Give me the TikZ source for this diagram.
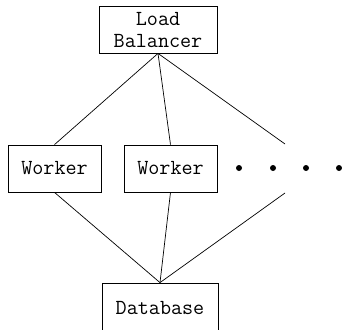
\documentclass[tikz,border=0pt]{standalone}

\begin{document}
\begin{tikzpicture}[x=1pt, y=-1pt,
    box/.style={draw, line width=0.8pt, inner sep=0pt, minimum height=47pt,
        font=\ttfamily\fontsize{21.5}{22}\selectfont, align=center},
    link/.style={line width=0.7pt},
    dot/.style={circle, fill=black, inner sep=0pt, minimum size=6pt}]
            \useasboundingbox (0,0) rectangle (342,329);

            \node[box, minimum width=118pt] (LB) at (158,29.5) {Load\\Balancer};
            \node[box, minimum width=93pt] (W1) at (54.5,168.5) {Worker};
            \node[box, minimum width=93pt] (W2) at (170.5,168.5) {Worker};
            % runs off the bottom edge
            \node[box, minimum width=116pt, minimum height=50pt] (DB) at (160,308) {Database};

            \node[dot] (d1) at (239,168) {};
            \node[dot] (d2) at (273,168) {};
            \node[dot] (d3) at (306,168) {};
            \node[dot] (d4) at (339,168) {};

            \coordinate (Wn) at (285,144);
            \coordinate (Ws) at (285,193);

            \draw[link] (LB.south) -- (W1.north);
            \draw[link] (LB.south) -- (W2.north);
            \draw[link] (LB.south) -- (Wn);
            \draw[link] (W1.south) -- (DB.north);
            \draw[link] (W2.south) -- (DB.north);
            \draw[link] (Ws) -- (DB.north);
        \end{tikzpicture}
\end{document}
